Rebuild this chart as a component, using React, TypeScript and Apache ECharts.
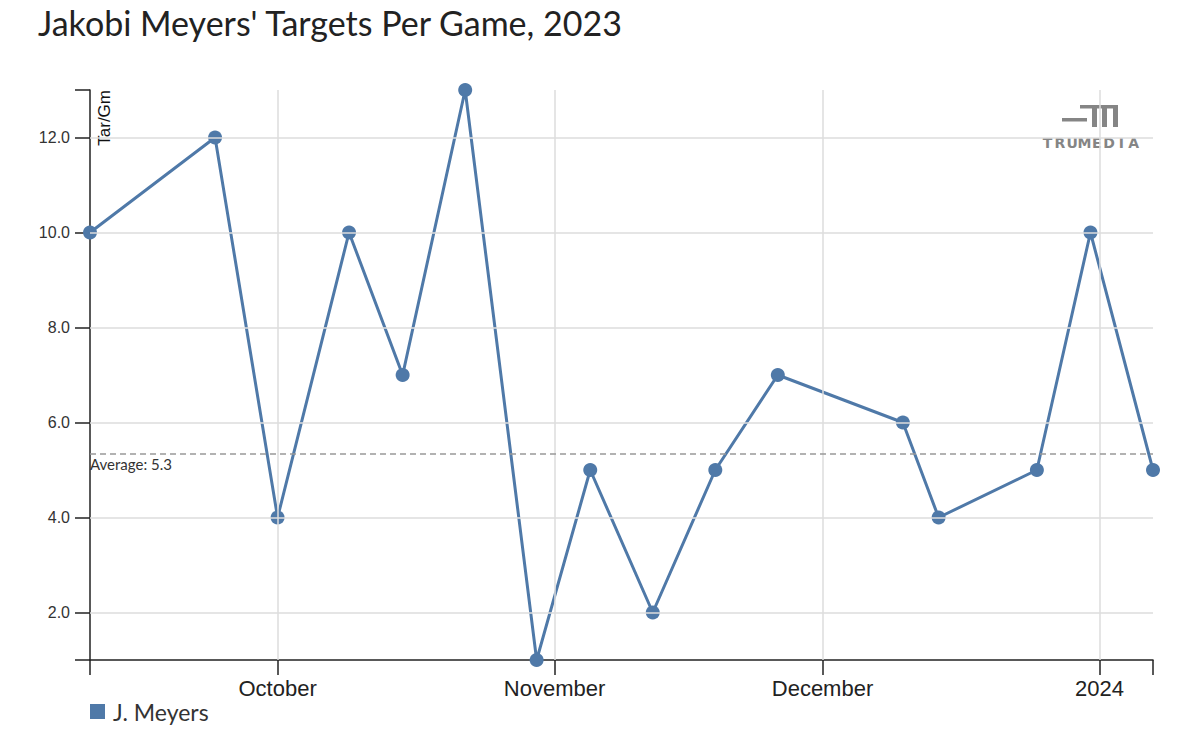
import React, { useEffect, useRef } from "react";
import * as echarts from "echarts";

const gameDates = [
  "2023-09-10", "2023-09-24", "2023-10-01", "2023-10-09", "2023-10-15", "2023-10-22",
  "2023-10-30", "2023-11-05", "2023-11-12", "2023-11-19", "2023-11-26", "2023-12-10",
  "2023-12-14", "2023-12-25", "2023-12-31", "2024-01-07",
];
const targetsPerGame = [10, 12, 4, 10, 7, 13, 1, 5, 2, 5, 7, 6, 4, 5, 10, 5];
const monthTicks = ["2023-10-01", "2023-11-01", "2023-12-01", "2024-01-01"];
const monthNames = ["January", "February", "March", "April", "May", "June", "July", "August", "September", "October", "November", "December"];
const yTickValues = [2, 4, 6, 8, 10, 12];
const yMin = 1;
const yMax = 13;
const averageValue = 5.35;
const xStart = "2023-09-10";
const xEnd = "2024-01-07";

const ts = (s: string) => {
  const [y, m, d] = s.split("-").map(Number);
  return new Date(y, m - 1, d).getTime();
};

const COLOR = "#4f79a8";
const AXIS = "#222";
const GRID = "#dddddd";
const LOGO = "#858585";

export default function App() {
  const ref = useRef<HTMLDivElement>(null);

  useEffect(() => {
    if (!ref.current) return;
    const chart = echarts.init(ref.current, null, { renderer: "svg" });
    const minT = ts(xStart);
    const maxT = ts(xEnd);
    const monthT = monthTicks.map(ts);

    const logoLetters = "TRUMEDIA".split("");
    const letterGraphics = logoLetters.map((ch, i) => ({
      type: "text",
      x: 1047.5 + i * 12.3,
      y: 143,
      style: {
        text: ch,
        fill: LOGO,
        font: "bold 14px 'DejaVu Sans', sans-serif",
        align: "center",
        verticalAlign: "middle",
      },
    }));

    chart.setOption({
      animation: false,
      title: {
        text: "Jakobi Meyers' Targets Per Game, 2023",
        left: 33,
        top: 0,
        textStyle: { fontFamily: "Lato", fontSize: 34, fontWeight: "normal", color: "#222" },
      },
      legend: {
        data: [{ name: "J. Meyers", icon: "rect" }],
        left: 85,
        top: 695,
        itemWidth: 15,
        itemHeight: 15,
        itemGap: 10,
        textStyle: { fontFamily: "Lato", fontSize: 23, color: "#333", padding: [0, 0, 0, 3] },
      },
      grid: { left: 90, right: 45, top: 90, bottom: 90, containLabel: false },
      xAxis: {
        type: "value",
        min: minT,
        max: maxT,
        axisLine: { show: true, onZero: false, lineStyle: { color: AXIS, width: 1.5 } },
        axisTick: { show: true, length: 15, lineStyle: { color: AXIS, width: 1.5 }, customValues: [minT, ...monthT, maxT] },
        axisLabel: {
          customValues: monthT,
          margin: 17,
          fontFamily: "'Liberation Sans', Arial, sans-serif",
          fontSize: 22,
          color: "#222",
          formatter: (v: number) => {
            const d = new Date(v);
            return d.getMonth() === 0 ? String(d.getFullYear()) : monthNames[d.getMonth()];
          },
        },
        splitLine: { show: false },
      },
      yAxis: {
        type: "value",
        min: yMin,
        max: yMax,
        axisLine: { show: true, lineStyle: { color: AXIS, width: 1.5 } },
        axisTick: { show: true, length: 15, lineStyle: { color: AXIS, width: 1.5 }, customValues: [yMin, ...yTickValues, yMax] },
        axisLabel: {
          customValues: yTickValues,
          margin: 20,
          fontFamily: "'Liberation Sans', Arial, sans-serif",
          fontSize: 16,
          color: "#333",
          formatter: (v: number) => v.toFixed(1),
        },
        splitLine: { show: false },
      },
      graphic: [
        {
          type: "text",
          x: 104,
          y: 90,
          rotation: Math.PI / 2,
          style: {
            text: "Tar/Gm",
            fill: "#111",
            font: "17px 'Liberation Sans', Arial, sans-serif",
            align: "right",
            verticalAlign: "middle",
          },
        },
        { type: "rect", shape: { x: 1062, y: 118, width: 25, height: 3.5 }, style: { fill: LOGO } },
        { type: "rect", shape: { x: 1080, y: 105, width: 38, height: 3.5 }, style: { fill: LOGO } },
        { type: "rect", shape: { x: 1092, y: 105, width: 5, height: 22 }, style: { fill: LOGO } },
        { type: "rect", shape: { x: 1102, y: 105, width: 5, height: 22 }, style: { fill: LOGO } },
        { type: "rect", shape: { x: 1113, y: 105, width: 5, height: 22 }, style: { fill: LOGO } },
        ...letterGraphics,
      ],
      series: [
        {
          name: "_grid",
          type: "line",
          data: [],
          z: 1,
          silent: true,
          markLine: {
            silent: true,
            symbol: ["none", "none"],
            label: { show: false },
            lineStyle: { color: GRID, type: "solid", width: 1.5 },
            data: [
              ...yTickValues.map((v) => ({ yAxis: v })),
              ...monthT.map((t) => ({ xAxis: t })),
            ],
          },
        },
        {
          name: "J. Meyers",
          type: "line",
          z: 3,
          data: gameDates.map((d, i) => [ts(d), targetsPerGame[i]]),
          symbol: "circle",
          symbolSize: 14,
          showSymbol: true,
          itemStyle: { color: COLOR },
          lineStyle: { color: COLOR, width: 3 },
          markLine: {
            silent: true,
            symbol: ["none", "none"],
            lineStyle: { color: "#999", type: [6, 4], width: 1.5 },
            label: {
              show: true,
              position: "insideStartBottom",
              formatter: "Average: " + averageValue.toFixed(1),
              fontFamily: "Lato",
              fontSize: 15,
              color: "#333",
              distance: [0, 3],
            },
            data: [{ yAxis: averageValue }],
          },
        },
      ],
    });
    return () => chart.dispose();
  }, []);

  return <div ref={ref} style={{ width: 1198, height: 750, position: "absolute", left: 0, top: 0 }} />;
}
